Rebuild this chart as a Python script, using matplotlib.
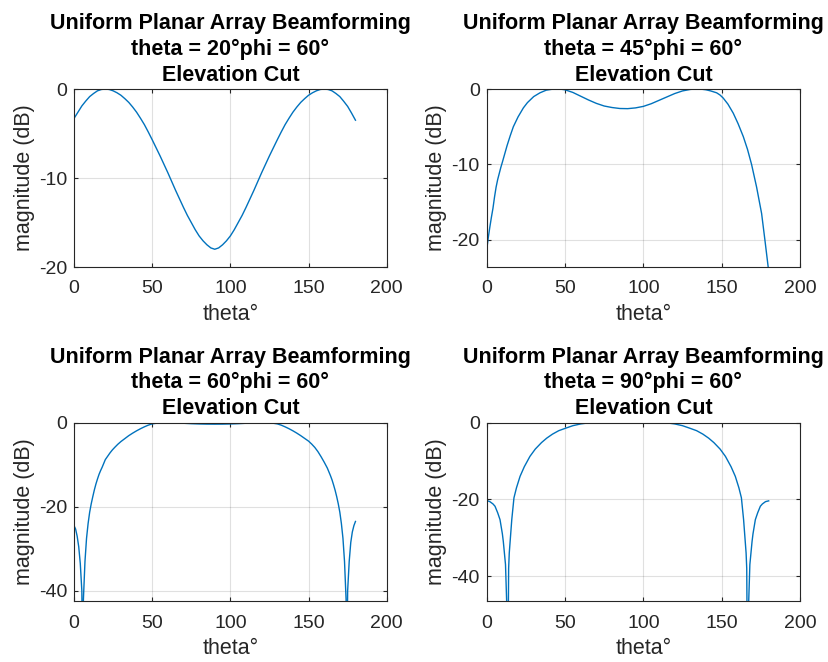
import numpy as np
import matplotlib
matplotlib.use('Agg')
import matplotlib.pyplot as plt

plt.rcParams['font.family'] = ['Liberation Sans', 'DejaVu Sans']
plt.rcParams['axes.unicode_minus'] = False

# steering angles shown in the titles
steer_theta = [20, 45, 60, 90]
steer_phi = 60

# elevation cuts (theta in degrees, magnitude in dB)
theta_20 = [0, 2.5, 5, 7.5, 10, 12.5, 15, 17.5, 20, 22.5, 25, 27.5, 30, 32.5, 35, 37.5,
            40, 42.5, 45, 47.5, 50, 52.5, 55, 57.5, 60, 62.5, 65, 67.5, 70, 72.5, 75,
            77.5, 80, 82.5, 85, 87.5, 90, 92.5, 95, 97.5, 100, 102.5, 105, 107.5, 110,
            112.5, 115, 117.5, 120, 122.5, 125, 127.5, 130, 132.5, 135, 137.5, 140,
            142.5, 145, 147.5, 150, 152.5, 155, 157.5, 160, 162.5, 165, 167.5, 170,
            172.5, 175, 177.5, 180]
mag_20 = [-3.3, -2.6, -1.9, -1.35, -0.85, -0.5, -0.2, -0.05, 0, -0.05, -0.2, -0.42,
          -0.7, -1.08, -1.5, -2.02, -2.6, -3.28, -4.0, -4.83, -5.7, -6.6, -7.5, -8.45,
          -9.4, -10.4, -11.4, -12.35, -13.3, -14.2, -15.0, -15.8, -16.5, -17.05, -17.5,
          -17.85, -18.0, -17.85, -17.5, -17.05, -16.5, -15.8, -15.0, -14.2, -13.3,
          -12.35, -11.4, -10.4, -9.4, -8.45, -7.5, -6.6, -5.7, -4.83, -4.0, -3.28, -2.6,
          -2.02, -1.5, -1.08, -0.7, -0.42, -0.2, -0.05, 0, -0.05, -0.2, -0.5, -0.85,
          -1.38, -1.95, -2.7, -3.5]

theta_45 = [0, 1, 2, 3, 4, 5, 6, 7, 8, 9, 10, 11.5, 13, 15, 17, 20, 23.4, 26, 30, 34,
            38, 42, 45, 48, 50, 55, 60, 65, 70, 75, 80, 85, 90, 95, 100, 105, 110, 115,
            120, 125, 130, 132.5, 135, 137.5, 140, 143, 146.8, 149, 151, 154, 157.4,
            160.5, 163.8, 166.5, 169.1, 172.3, 175.5, 177.6, 179.7, 180]
mag_45 = [-21.3, -19.7, -18.3, -17.0, -15.8, -14.3, -13.0, -12.0, -11.2, -10.4, -9.7,
          -8.6, -7.5, -6.2, -5.0, -3.7, -2.5, -1.8, -1.0, -0.5, -0.15, -0.02, 0, -0.04,
          -0.1, -0.45, -0.95, -1.45, -1.9, -2.25, -2.45, -2.58, -2.6, -2.5, -2.3, -1.95,
          -1.5, -1.05, -0.6, -0.25, -0.05, -0.01, 0, -0.03, -0.1, -0.25, -0.5, -0.8,
          -1.2, -2.0, -3.2, -4.6, -6.3, -8.0, -10.0, -13.0, -16.5, -20.0, -23.6, -24.5]

theta_60 = [0, 1, 2, 3, 4, 5, 5.5, 6, 7, 8, 9, 10, 11, 12, 13, 14, 15, 16, 17, 18, 19,
            20, 21.5, 23, 24.5, 26, 28, 30, 32.5, 35, 37.5, 40, 42.5, 45, 47.5, 50,
            52.5, 55, 57.5, 60, 65, 70, 75, 80, 85, 90, 95, 100, 105, 110, 115, 120,
            122.5, 125, 127.5, 130, 132.5, 135, 137.5, 140, 142.5, 145, 147.5, 150,
            152, 154, 156, 158, 160, 161, 162, 163, 164, 165, 166, 167, 168, 169, 170,
            171, 172, 173, 174, 174.5, 175, 176, 177, 178, 179, 180]
mag_60 = [-24.5, -25.3, -27.0, -29.5, -33.5, -40, -60, -42, -33, -27.5, -24, -21.3,
          -19.3, -17.6, -16.0, -14.6, -13.4, -12.3, -11.4, -10.6, -9.7, -8.8, -8.0,
          -7.2, -6.5, -5.9, -5.15, -4.5, -3.8, -3.1, -2.5, -1.95, -1.45, -1.0, -0.6,
          -0.3, -0.15, -0.05, -0.01, 0, -0.05, -0.15, -0.25, -0.32, -0.36, -0.37,
          -0.36, -0.32, -0.25, -0.15, -0.05, 0, -0.01, -0.05, -0.15, -0.3, -0.6, -1.0,
          -1.45, -1.95, -2.5, -3.1, -3.75, -4.4, -5.1, -5.9, -6.9, -8.1, -9.4, -10.1,
          -10.8, -11.7, -12.6, -13.6, -14.8, -16.1, -17.6, -19.3, -21.3, -24, -27.5,
          -33, -42, -60, -40, -33, -28.5, -26, -24.5, -23.5]

theta_90 = [0, 2, 4, 5.3, 7, 8.5, 10, 10.6, 12, 13, 13.3, 14, 14.4, 16, 17.4, 19, 21.3,
            24, 27.6, 31, 35, 38.3, 42, 46, 50.4, 55, 60, 62.5, 65, 67.5, 70,
            110, 112.5, 115, 117.5, 120, 125, 129.6, 134, 138, 141.7, 145, 149, 152.4,
            156, 158.7, 161, 162.6, 164, 165.6, 166, 166.7, 167, 168, 169.4, 170,
            171.5, 173, 174.7, 176, 178, 180]
mag_90 = [-20.3, -20.6, -21.2, -21.8, -23.5, -25.3, -29, -31, -37, -50, -80, -38, -34,
          -25.3, -19.6, -17, -14, -11.5, -8.8, -6.9, -5.2, -4.05, -3.0, -2.1, -1.45,
          -0.8, -0.34, -0.2, -0.08, -0.03, 0,
          0, -0.03, -0.08, -0.2, -0.34, -0.8, -1.45, -2.1, -3.0, -4.05, -5.2, -6.9,
          -8.8, -11.5, -14, -17, -19.6, -25.3, -34, -38, -80, -50, -37, -31, -29,
          -25.3, -23.5, -21.8, -21.2, -20.6, -20.4]

cuts = [(theta_20, mag_20), (theta_45, mag_45), (theta_60, mag_60), (theta_90, mag_90)]
ylims = [(-20, 0), (-23.6, 0), (-42.5, 0), (-46.6, 0)]
yticks = [[-20, -10, 0], [-20, -10, 0], [-40, -20, 0], [-40, -20, 0]]

positions = [[0.0893, 0.5966, 0.3772, 0.2689],
             [0.5871, 0.5966, 0.3779, 0.2689],
             [0.0893, 0.0916, 0.3772, 0.2700],
             [0.5871, 0.0916, 0.3779, 0.2700]]

fig = plt.figure(figsize=(8.29, 6.62), dpi=100)
edge = '#262626'

for i, (th, mag) in enumerate(cuts):
    ax = fig.add_axes(positions[i])
    ax.plot(th, mag, color='#0072BD', linewidth=1.0)
    ax.set_xlim(0, 200)
    ax.set_ylim(*ylims[i])
    ax.set_xticks([0, 50, 100, 150, 200])
    ax.set_yticks(yticks[i])
    ax.grid(True, color='#000000', alpha=0.12, linewidth=0.8)
    ax.tick_params(direction='in', length=3, labelsize=14, colors=edge,
                   top=True, right=True, labeltop=False, labelright=False)
    ax.tick_params(axis='x', pad=9.5)
    ax.tick_params(axis='y', pad=5)
    for s in ax.spines.values():
        s.set_color(edge)
        s.set_linewidth(0.8)
    ax.set_xlabel('theta°', fontsize=15.5, color=edge, labelpad=5)
    ax.set_ylabel('magnitude (dB)', fontsize=15.5, color=edge, labelpad=3)
    ax.set_title('Uniform Planar Array Beamforming\n'
                 'theta = %d°phi = %d°\nElevation Cut' % (steer_theta[i], steer_phi),
                 fontsize=15.5, fontweight='bold', linespacing=1.3)

fig.savefig('out.png', dpi=100)
